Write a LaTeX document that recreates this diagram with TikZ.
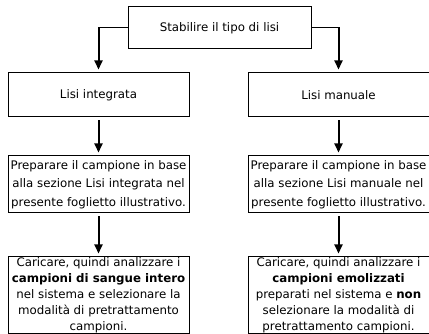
\documentclass[tikz,border=0pt]{standalone}
\usepackage{fontspec}
\setmainfont{DejaVu Sans}
\usepackage{tikz}
\usetikzlibrary{arrows.meta,positioning}
\tikzstyle{simple}=[rectangle, draw=black, line width=1pt, minimum width=181, inner sep=0.5pt, align=center]
\tikzstyle{freccia}=[line width=2pt, -{Triangle[length=9pt,width=8pt]}, shorten <=3pt, shorten >=3pt]

\begin{document}
\begin{tikzpicture}[x=1pt,y=1pt]
	\useasboundingbox (0,0) rectangle (429,-334);
	\begin{scope}[node distance=38,font=\fontsize{11.8}{15.8}\selectfont]
		\node[simple,minimum width=183,minimum height=42](tipo) at (219.5,-28) {Stabilire il tipo di lisi};
		
		\node[simple,minimum height=44](integ) at (98.5,-95) {Lisi integrata};
		\node[simple,minimum height=44](manu)[right=58 of integ]{Lisi manuale};
		
		\node[simple,minimum height=57,font=\fontsize{11.8}{18.3}\selectfont](prepI)[below=of integ]{Preparare il campione in base\\alla sezione Lisi integrata nel\\presente foglietto illustrativo.};
		\node[simple,minimum height=57,font=\fontsize{11.8}{18.3}\selectfont](prepM)[below=of manu]{Preparare il campione in base\\alla sezione Lisi manuale nel\\presente foglietto illustrativo.};
		
		\node[simple,minimum height=76.5](caricI)[below=43 of prepI]{Caricare, quindi analizzare i\\\textbf{campioni di sangue intero}\\nel sistema e selezionare la\\modalità di pretrattamento\\campioni.};
		\node[simple,minimum height=76.5](caricM)[below=43 of prepM]{Caricare, quindi analizzare i\\\textbf{campioni emolizzati}\\preparati nel sistema e \textbf{non}\\selezionare la modalità di\\pretrattamento campioni.};
		
		\coordinate (gomitoI) at (integ.north |- tipo.west);
		\coordinate (gomitoM) at (manu.north |- tipo.east);
		\draw[line width=1pt] (tipo.west) -- (gomitoI);
		\draw[line width=1pt] (tipo.east) -- (gomitoM);
		\draw[freccia,shorten <=-0.5pt] (gomitoI) -- (integ.north);
		\draw[freccia,shorten <=-0.5pt] (gomitoM) -- (manu.north);
		
		\draw[freccia] (integ) -- (prepI);
		\draw[freccia] (manu) -- (prepM);
		\draw[freccia] (prepI) -- (caricI);
		\draw[freccia] (prepM) -- (caricM);
	\end{scope}
\end{tikzpicture}
\end{document}
